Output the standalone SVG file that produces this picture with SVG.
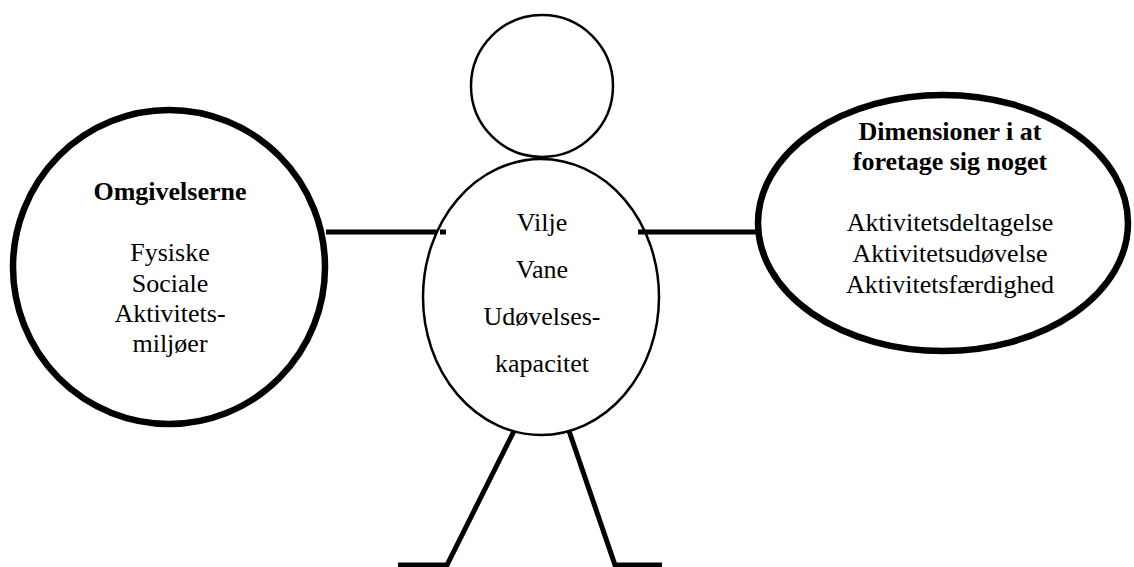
<svg xmlns="http://www.w3.org/2000/svg" width="1134" height="567" viewBox="0 0 1134 567">
<style>
.t{font-family:"Liberation Serif","Times New Roman",serif;font-size:26px;fill:#000;text-anchor:middle}
.b{font-weight:bold}
.thick{fill:#fff;stroke:#000;stroke-width:6.5}
.thin{fill:#fff;stroke:#000;stroke-width:2.5}
.limb{stroke:#000;stroke-width:5;fill:none}
</style>
<rect width="1134" height="567" fill="#fff"/>
<g id="connectors">
<line class="limb" x1="326" y1="232" x2="446" y2="232"/>
<line class="limb" x1="638" y1="232" x2="758" y2="232"/>
<polyline class="limb" points="517,425 447,565 398,565"/>
<polyline class="limb" points="567,425 615,565 662,565"/>
</g>
<g id="head">
<circle class="thin" cx="542" cy="86" r="71"/>
</g>
<g id="body">
<ellipse class="thin" cx="541" cy="297" rx="118" ry="138"/>
<text class="t" x="542" y="231">Vilje</text>
<text class="t" x="542" y="278">Vane</text>
<text class="t" x="542" y="325">Udøvelses-</text>
<text class="t" x="542" y="372">kapacitet</text>
</g>
<line class="limb" x1="638" y1="232" x2="645" y2="232"/>
<line class="limb" x1="440" y1="232" x2="446" y2="232"/>
<g id="omgivelserne">
<ellipse class="thick" cx="169" cy="267" rx="156" ry="157"/>
<text class="t b" x="170" y="200">Omgivelserne</text>
<text class="t" x="170" y="261">Fysiske</text>
<text class="t" x="170" y="292">Sociale</text>
<text class="t" x="170" y="322">Aktivitets-</text>
<text class="t" x="170" y="352">miljøer</text>
</g>
<g id="dimensioner">
<ellipse class="thick" cx="943" cy="223" rx="185" ry="128"/>
<text class="t b" x="950" y="140">Dimensioner i at</text>
<text class="t b" x="950" y="170">foretage sig noget</text>
<text class="t" x="950" y="231">Aktivitetsdeltagelse</text>
<text class="t" x="950" y="262">Aktivitetsudøvelse</text>
<text class="t" x="950" y="293">Aktivitetsfærdighed</text>
</g>
</svg>
